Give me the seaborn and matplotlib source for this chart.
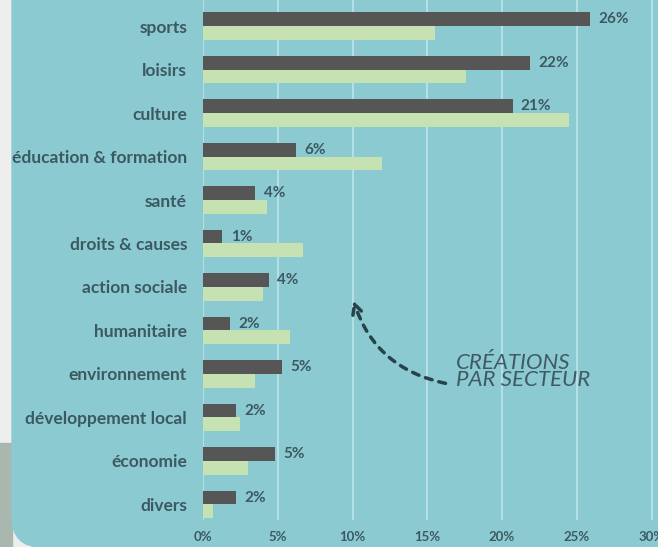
# Créations d'associations par secteur
import numpy as np
import pandas as pd
import seaborn as sns
import matplotlib.pyplot as plt
from matplotlib.patches import Rectangle, FancyBboxPatch

# ------------- Données -------------
secteurs = ["sports", "loisirs", "culture", "éducation & formation", "santé",
            "droits & causes", "action sociale", "humanitaire", "environnement",
            "développement local", "économie", "divers"]
creations = [25.9, 21.9, 20.7, 6.2, 3.5, 1.3, 4.4, 1.8, 5.3, 2.2, 4.8, 2.2]
ensemble = [15.5, 17.6, 24.5, 12.0, 4.3, 6.7, 4.0, 5.8, 3.5, 2.5, 3.0, 0.7]
etiquettes = ["26%", "22%", "21%", "6%", "4%", "1%", "4%", "2%", "5%", "2%", "5%", "2%"]
ticks_x = [0, 5, 10, 15, 20, 25, 30]

df = pd.DataFrame({
    "secteur": secteurs * 2,
    "valeur": creations + ensemble,
    "serie": ["créations"] * len(secteurs) + ["ensemble"] * len(secteurs),
})

# ------------- Couleurs -------------
teal = "#8ccad2"
fonce = "#565656"
clair = "#c6e1b2"
texte = "#3c5961"
grille = "#b9e2e6"

sns.set_theme(style="white")
plt.rcParams["font.family"] = ["Lato", "DejaVu Sans"]

fig = plt.figure(figsize=(6.58, 5.47), dpi=100)
fig.patch.set_facecolor("#eeeeee")
# fond décoratif
fig.patches.append(Rectangle((0, 0), 12 / 658, 104 / 547, transform=fig.transFigure,
                             color="#a9b8ae", zorder=-10))
fig.patches.append(FancyBboxPatch((0.12, 0.0), 7, 6, transform=fig.dpi_scale_trans,
                                  boxstyle="round,pad=0,rounding_size=0.3",
                                  color=teal, zorder=-9))

ax = fig.add_axes([203 / 658, 27 / 547, 455 / 658, 520 / 547])
ax.patch.set_visible(False)

sns.barplot(data=df, y="secteur", x="valeur", hue="serie", orient="h",
            palette=[fonce, clair], width=0.63, saturation=1, ax=ax,
            legend=False, linewidth=0, zorder=3)

ax.set_xlim(0, 30.43)
ax.set_ylim(11.36, -0.6)
ax.set_xticks(ticks_x)
ax.set_xticklabels([f"{t}%" for t in ticks_x])
ax.set_xlabel("")
ax.set_ylabel("")
ax.grid(axis="x", color=grille, lw=1.3, zorder=0)
ax.grid(axis="y", visible=False)
for s in ax.spines.values():
    s.set_visible(False)
ax.tick_params(axis="y", length=0, pad=11.5, labelsize=12.5, labelcolor=texte)
ax.tick_params(axis="x", length=0, pad=8, labelsize=9.5, labelcolor=texte)
for lab in ax.get_yticklabels() + ax.get_xticklabels():
    lab.set_fontweight("bold")

ax.bar_label(ax.containers[0], labels=etiquettes, padding=6, fontsize=11,
             fontweight="bold", color=texte)

# annotation
ax.annotate("", xy=(10.0, 6.25), xytext=(16.4, 8.23),
            arrowprops=dict(arrowstyle="->", color="#27434a", lw=2.5,
                            linestyle=(0, (2, 2)), mutation_scale=18,
                            connectionstyle="arc3,rad=-0.3"))
ax.text(16.9, 7.95, "CRÉATIONS\nPAR SECTEUR", fontsize=16, style="italic",
        color="#3f5a63", ha="left", va="center", linespacing=0.8)

plt.savefig("out.png", dpi=100, facecolor=fig.get_facecolor())
